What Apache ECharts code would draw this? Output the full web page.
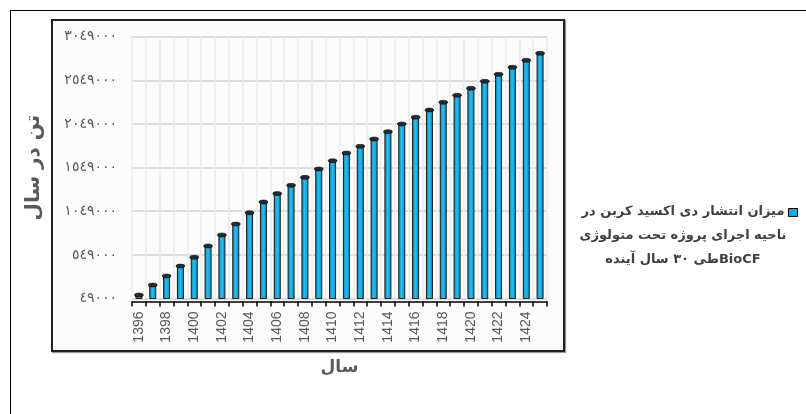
<!DOCTYPE html>
<html>
<head>
<meta charset="utf-8">
<script src="https://cdn.jsdelivr.net/npm/echarts@6/dist/echarts.min.js"></script>
<style>
    body { margin: 0; background: #fff; }
    #wrap { position: relative; width: 806px; height: 414px; overflow: hidden; }
    .outer-box { position: absolute; left: 10px; top: 10px; width: 820px; height: 430px; border: 1px solid #000; }
    .inner-box { position: absolute; left: 51px; top: 19px; width: 510px; height: 329px; border: 2px solid #222; background: #fcfcfc; box-shadow: 1px 1px 1px #999; }
    #chart { position: absolute; left: 0; top: 0; width: 806px; height: 414px; }
</style>
</head>
<body>
<div id="wrap">
    <div class="outer-box"></div>
    <div class="inner-box"></div>
    <div id="chart"></div>
</div>
<script>
// سال ها
var years = ['1396', '1397', '1398', '1399', '1400', '1401', '1402', '1403', '1404', '1405',
    '1406', '1407', '1408', '1409', '1410', '1411', '1412', '1413', '1414', '1415',
    '1416', '1417', '1418', '1419', '1420', '1421', '1422', '1423', '1424', '1425'];
// میزان انتشار (تن در سال)
var emission = [89000, 204000, 307000, 421000, 521000, 651000, 777000, 903000, 1032000, 1155000,
    1252000, 1346000, 1438000, 1533000, 1628000, 1716000, 1793000, 1877000, 1961000, 2049000,
    2126000, 2209000, 2298000, 2378000, 2458000, 2538000, 2618000, 2699000, 2779000, 2859000];
// محور عمودی
var yMin = 49000;
var yMax = 3049000;
var yStep = 500000;

// متن راهنما (سه سطر)
var legendLines = ['میزان انتشار دی اکسید کربن در', 'ناحیه اجرای پروژه تحت متولوژی', 'طی ۳۰ سال آیندهBioCF'];
var seriesName = legendLines.join(' ');

var arabicDigits = ['٠', '١', '٢', '٣', '٤', '٥', '٦', '٧', '٨', '٩'];
function toArabicDigits(v) {
    return String(v).replace(/[0-9]/g, function (d) { return arabicDigits[+d]; });
}

var chart = echarts.init(document.getElementById('chart'));
var option = {
    backgroundColor: 'transparent',
    animation: false,
    grid: {
        left: 132,
        right: 259,
        top: 36.7,
        bottom: 115.5
    },
    legend: { show: false, data: [seriesName] },
    // راهنما: مربع رنگی سمت راست و متن وسط چین
    graphic: [
        {
            type: 'rect',
            left: 788,
            top: 208,
            shape: { width: 9, height: 8 },
            style: { fill: '#00b0f0', stroke: '#000', lineWidth: 1 }
        },
        {
            type: 'text',
            x: 683,
            y: 200,
            style: {
                text: legendLines.join('\n'),
                align: 'center',
                verticalAlign: 'top',
                font: 'bold 13px "DejaVu Sans"',
                lineHeight: 24,
                fill: '#404040'
            }
        }
    ],
    xAxis: {
        type: 'category',
        data: years,
        offset: 3,
        name: 'سال',
        nameLocation: 'middle',
        nameGap: 58,
        nameTextStyle: { fontFamily: 'DejaVu Sans', fontWeight: 'bold', fontSize: 17, color: '#595959' },
        axisLine: { lineStyle: { color: '#000', width: 1.5 } },
        axisTick: { show: true, interval: 0, length: 5, lineStyle: { color: '#000', width: 1.5 } },
        axisLabel: {
            interval: 1,
            rotate: 90,
            margin: 10,
            fontFamily: 'Liberation Sans',
            fontSize: 14,
            color: '#595959'
        },
        splitLine: { show: true, interval: 0, lineStyle: { color: '#ebebeb', width: 1.5 } }
    },
    yAxis: {
        type: 'value',
        min: yMin,
        max: yMax,
        interval: yStep,
        name: 'تن در سال',
        nameLocation: 'middle',
        nameGap: 88,
        nameTextStyle: { fontFamily: 'DejaVu Sans', fontWeight: 'bold', fontSize: 20, color: '#595959' },
        axisLine: { show: false },
        axisTick: { show: false },
        axisLabel: {
            margin: 15,
            fontFamily: 'DejaVu Sans',
            fontSize: 14,
            color: '#595959',
            formatter: function (v) { return toArabicDigits(v); }
        },
        splitLine: { lineStyle: { color: '#dcdcdc', width: 2 } }
    },
    series: [
        {
            name: seriesName,
            type: 'bar',
            data: emission,
            barWidth: 7,
            itemStyle: {
                color: new echarts.graphic.LinearGradient(0, 0, 1, 0, [
                    { offset: 0, color: '#0a78a8' },
                    { offset: 0.45, color: '#20c0f5' },
                    { offset: 1, color: '#0a8cc4' }
                ]),
                borderColor: '#1a1a1a',
                borderWidth: 1
            }
        },
        {
            // درپوش بالای استوانه ها
            type: 'scatter',
            data: emission,
            symbol: 'circle',
            symbolSize: [9, 4],
            silent: true,
            itemStyle: { color: '#1e2d36', borderColor: '#000', borderWidth: 0.5, opacity: 1 },
            z: 3
        }
    ]
};
chart.setOption(option);
</script>
</body>
</html>
